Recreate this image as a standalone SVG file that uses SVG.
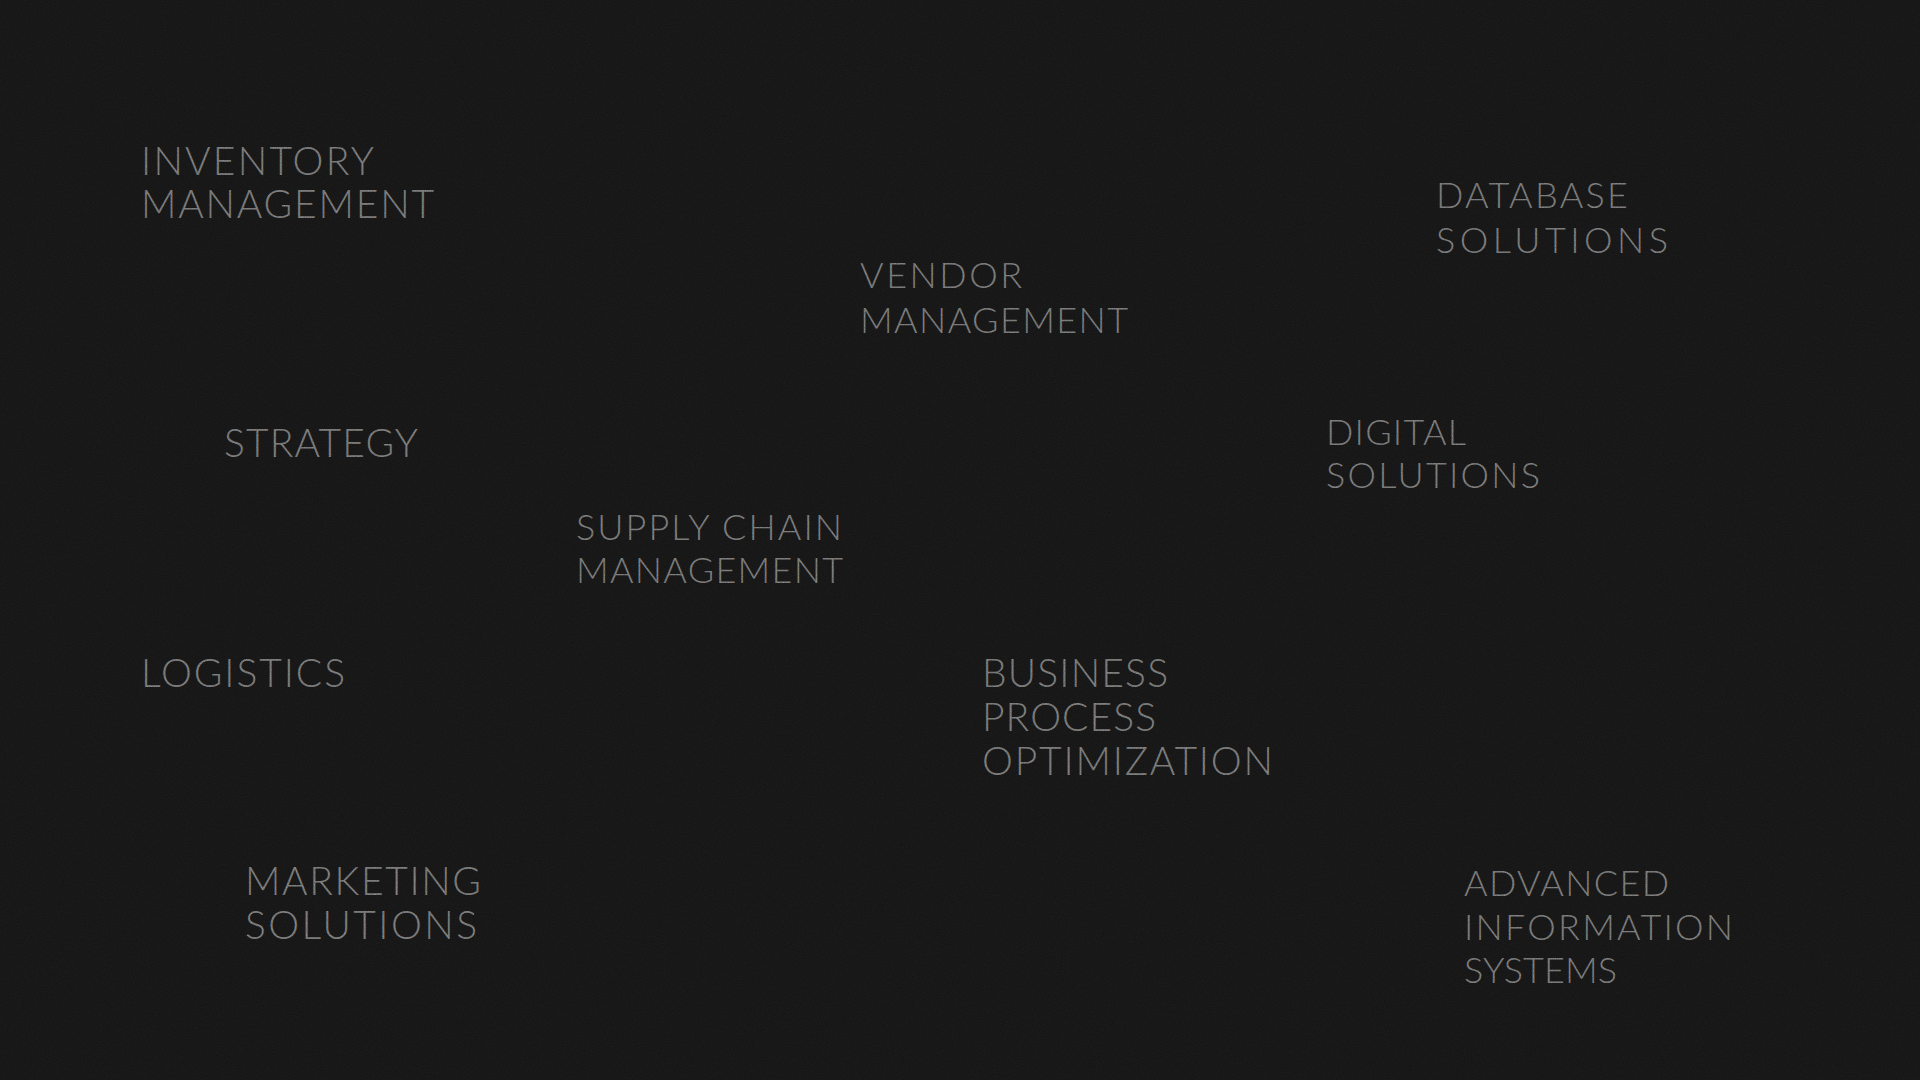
<svg xmlns="http://www.w3.org/2000/svg" width="1920" height="1080" viewBox="0 0 1920 1080">
<defs>
<style>
.bg{fill:#1c1c1c}
.t{font-family:"Lato","Open Sans","Liberation Sans",sans-serif;font-weight:300;fill:#8c8c8c}
.lg{font-size:39px}
.md{font-size:36px}
</style>
<filter id="grain" x="0" y="0" width="100%" height="100%">
<feTurbulence type="fractalNoise" baseFrequency="0.9" numOctaves="2" seed="3" result="n"/>
<feColorMatrix in="n" type="matrix" values="0 0 0 0 0  0 0 0 0 0  0 0 0 0 0  0 0 0 -1.2 0.95"/>
</filter>
</defs>
<rect class="bg" x="0" y="0" width="1920" height="1080"/>
<g id="inventory-management" class="t lg">
<text x="141" y="175" textLength="233" lengthAdjust="spacing">INVENTORY</text>
<text x="141" y="218" textLength="293" lengthAdjust="spacing">MANAGEMENT</text>
</g>
<g id="vendor-management" class="t md">
<text x="860" y="288" textLength="162" lengthAdjust="spacing">VENDOR</text>
<text x="860" y="333" textLength="268" lengthAdjust="spacing">MANAGEMENT</text>
</g>
<g id="database-solutions" class="t md">
<text x="1436" y="208" textLength="192" lengthAdjust="spacing">DATABASE</text>
<text x="1436" y="253" textLength="232" lengthAdjust="spacing">SOLUTIONS</text>
</g>
<g id="strategy" class="t lg">
<text x="224" y="457" textLength="194" lengthAdjust="spacing">STRATEGY</text>
</g>
<g id="digital-solutions" class="t md">
<text x="1326" y="445" textLength="140" lengthAdjust="spacing">DIGITAL</text>
<text x="1326" y="488" textLength="214" lengthAdjust="spacing">SOLUTIONS</text>
</g>
<g id="supply-chain-management" class="t md">
<text x="576" y="540" textLength="266" lengthAdjust="spacing">SUPPLY CHAIN</text>
<text x="576" y="583" textLength="267" lengthAdjust="spacing">MANAGEMENT</text>
</g>
<g id="logistics" class="t lg">
<text x="141" y="687" textLength="204" lengthAdjust="spacing">LOGISTICS</text>
</g>
<g id="business-process-optimization" class="t lg">
<text x="982" y="687" textLength="186" lengthAdjust="spacing">BUSINESS</text>
<text x="982" y="731" textLength="174" lengthAdjust="spacing">PROCESS</text>
<text x="982" y="775" textLength="291" lengthAdjust="spacing">OPTIMIZATION</text>
</g>
<g id="marketing-solutions" class="t lg">
<text x="245" y="895" textLength="236" lengthAdjust="spacing">MARKETING</text>
<text x="245" y="939" textLength="232" lengthAdjust="spacing">SOLUTIONS</text>
</g>
<g id="advanced-information-systems" class="t md">
<text x="1464" y="896" textLength="205" lengthAdjust="spacing">ADVANCED</text>
<text x="1464" y="940" textLength="269" lengthAdjust="spacing">INFORMATION</text>
<text x="1464" y="983" textLength="153" lengthAdjust="spacing">SYSTEMS</text>
</g>
<rect x="0" y="0" width="1920" height="1080" filter="url(#grain)" opacity="0.35"/>
</svg>
